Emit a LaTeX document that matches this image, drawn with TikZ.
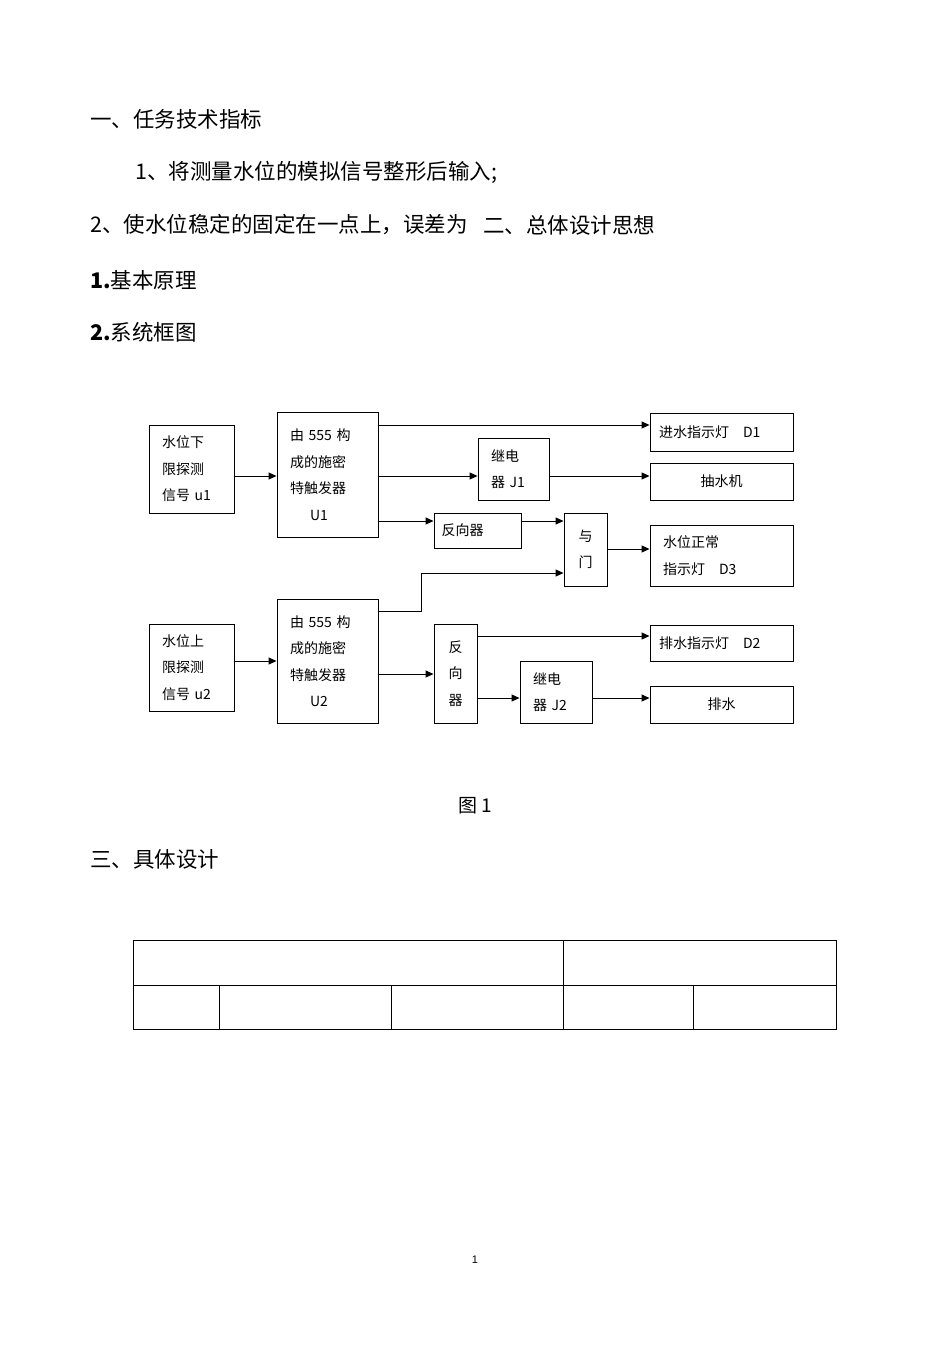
\documentclass[tikz,border=0pt]{standalone}
\usepackage{fontspec}
\setmainfont{Liberation Sans}
\newfontfamily\cjk{Noto Sans CJK SC}
\usetikzlibrary{arrows.meta}
\newcommand\mybx[6]{\node[box,minimum width=#4-#2,minimum height=#5-#3,text width=#4-#2-26] (#1) at ({(#2+#4)/2},{(#3+#5)/2}) {#6};}
\begin{document}
\begin{tikzpicture}[x=1pt,y=-1pt,
  box/.style={draw,line width=0.9pt,inner sep=0pt,align=left,font=\cjk\fontsize{14}{26.5}\selectfont},
  arr/.style={line width=0.9pt,-{Triangle[length=8pt,width=7pt]}},
  hd/.style={anchor=west,inner sep=0pt,font=\cjk\fontsize{21.5}{24}\selectfont},
  tb/.style={line width=0.8pt}]
\useasboundingbox (0,0) rectangle (950,1345);
\node[hd] (t1) at (90,119) {一、任务技术指标};
\node[hd] (t2) at (135,172) {1、将测量水位的模拟信号整形后输入;};
\node[hd] (t3) at (90,225) {2、使水位稳定的固定在一点上，误差为};
\node[hd] (t4) at (483,225) {二、总体设计思想};
\node[hd] (t5) at (90,280) {\textbf{1.}基本原理};
\node[hd] (t6) at (90,332) {\textbf{2.}系统框图};
\mybx{u1}{149}{425}{234}{513}{水位下\\限探测\\信号 u1}
\mybx{U1}{277}{412}{378}{537}{由 555 构\\成的施密\\特触发器\\\hspace*{20pt}U1}
\node[box,minimum width=143,minimum height=38,text width=125] (D1) at (721.5,432) {进水指示灯\quad D1};
\mybx{J1}{478}{438}{549}{500}{继电\\器 J1}
\node[box,minimum width=143,minimum height=37,align=center] (P) at (721.5,481.5) {抽水机};
\node[box,minimum width=87,minimum height=35,text width=72] (N1) at (477.5,530.5) {反向器};
\node[box,minimum width=43,minimum height=73,align=center] (A) at (585.5,549.5) {与\\门};
\mybx{D3}{650}{525}{793}{586}{水位正常\\指示灯\quad D3}
\mybx{u2}{149}{624}{234}{711}{水位上\\限探测\\信号 u2}
\mybx{U2}{277}{599}{378}{723}{由 555 构\\成的施密\\特触发器\\\hspace*{20pt}U2}
\node[box,minimum width=43,minimum height=99,align=center,font=\cjk\fontsize{14}{26.5}\selectfont] (N2) at (455.5,673.5) {反\\向\\器};
\node[box,minimum width=143,minimum height=36,text width=125] (D2) at (721.5,643) {排水指示灯\quad D2};
\mybx{J2}{520}{661}{592}{723}{继电\\器 J2}
\node[box,minimum width=143,minimum height=37,align=center] (PS) at (721.5,704.5) {排水};
\draw[arr] (U1.east|-0,425) -- (D1.west|-0,425);
\draw[arr] (u1.east|-0,476) -- (U1.west|-0,476);
\draw[arr] (U1.east|-0,476) -- (J1.west|-0,476);
\draw[arr] (J1.east|-0,476) -- (P.west|-0,476);
\draw[arr] (U1.east|-0,521) -- (N1.west|-0,521);
\draw[arr] (N1.east|-0,521) -- (A.west|-0,521);
\coordinate (k1) at (421,611); \coordinate (k2) at (421,573);
\draw[arr] (U2.east|-0,611) -- (k1) -- (k2) -- (A.west|-0,573);
\draw[arr] (A.east|-0,549) -- (D3.west|-0,549);
\draw[arr] (u2.east|-0,661) -- (U2.west|-0,661);
\draw[arr] (U2.east|-0,674) -- (N2.west|-0,674);
\draw[arr] (N2.east|-0,636) -- (D2.west|-0,636);
\draw[arr] (N2.east|-0,698) -- (J2.west|-0,698);
\draw[arr] (J2.east|-0,698) -- (PS.west|-0,698);
\node[inner sep=0pt,font=\cjk\fontsize{19}{20}\selectfont] (f1) at (475,806) {图 1};
\node[hd] (t7) at (90,859) {三、具体设计};
\draw[tb] (133,940) rectangle (836,1029);
\draw[tb] (133,985) -- (836,985);
\draw[tb] (563,940) -- (563,1029);
\draw[tb] (219,985) -- (219,1029);
\draw[tb] (391,985) -- (391,1029);
\draw[tb] (693,985) -- (693,1029);
\node[inner sep=0pt,font=\fontsize{11}{12}\selectfont] (pg) at (475,1260) {1};
\end{tikzpicture}
\end{document}
